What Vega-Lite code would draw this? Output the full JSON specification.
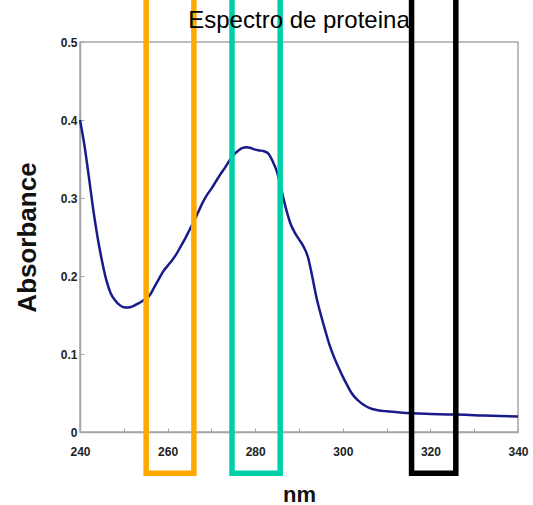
{
  "$schema": "https://vega.github.io/schema/vega-lite/v6.json",
  "autosize": "none",
  "width": 438,
  "height": 390,
  "padding": {"left": 80, "top": 42, "right": 15, "bottom": 73},
  "background": "white",
  "title": {"text": "Espectro de proteina", "font": "Liberation Sans", "fontSize": 24, "fontWeight": "normal", "color": "#000000", "offset": 0, "dy": 41},
  "config": {
    "view": {"stroke": "#a6a6a6", "strokeWidth": 1.5},
    "axis": {"grid": false, "domainColor": "#a6a6a6", "domainWidth": 1.5, "tickColor": "#a6a6a6", "tickSize": -4, "labelFlush": false, "labelFont": "Liberation Sans", "labelFontWeight": "bold", "labelFontSize": 12, "labelColor": "#222222", "titleFont": "Liberation Sans", "titleFontWeight": "bold", "titleColor": "#111111"}
  },
  "datasets": {
    "spectrum": [
      {"nm": 240, "abs": 0.400}, {"nm": 241, "abs": 0.368}, {"nm": 242, "abs": 0.328}, {"nm": 243, "abs": 0.286},
      {"nm": 244, "abs": 0.250}, {"nm": 245, "abs": 0.220}, {"nm": 246, "abs": 0.195}, {"nm": 247, "abs": 0.178},
      {"nm": 248, "abs": 0.169}, {"nm": 249, "abs": 0.163}, {"nm": 250, "abs": 0.160}, {"nm": 251, "abs": 0.1595},
      {"nm": 252, "abs": 0.161}, {"nm": 253, "abs": 0.164}, {"nm": 254, "abs": 0.167}, {"nm": 255, "abs": 0.171},
      {"nm": 256, "abs": 0.176}, {"nm": 257, "abs": 0.186}, {"nm": 258, "abs": 0.196}, {"nm": 259, "abs": 0.206},
      {"nm": 260, "abs": 0.213}, {"nm": 261, "abs": 0.220}, {"nm": 262, "abs": 0.228}, {"nm": 263, "abs": 0.238},
      {"nm": 264, "abs": 0.248}, {"nm": 265, "abs": 0.259}, {"nm": 266, "abs": 0.270}, {"nm": 267, "abs": 0.282},
      {"nm": 268, "abs": 0.294}, {"nm": 269, "abs": 0.304}, {"nm": 270, "abs": 0.312}, {"nm": 271, "abs": 0.321},
      {"nm": 272, "abs": 0.330}, {"nm": 273, "abs": 0.338}, {"nm": 274, "abs": 0.347}, {"nm": 275, "abs": 0.355},
      {"nm": 276, "abs": 0.360}, {"nm": 277, "abs": 0.364}, {"nm": 278, "abs": 0.365}, {"nm": 279, "abs": 0.364},
      {"nm": 280, "abs": 0.362}, {"nm": 281, "abs": 0.361}, {"nm": 282, "abs": 0.360}, {"nm": 283, "abs": 0.357},
      {"nm": 284, "abs": 0.347}, {"nm": 285, "abs": 0.333}, {"nm": 286, "abs": 0.310}, {"nm": 287, "abs": 0.287},
      {"nm": 288, "abs": 0.268}, {"nm": 289, "abs": 0.256}, {"nm": 290, "abs": 0.247}, {"nm": 291, "abs": 0.238},
      {"nm": 292, "abs": 0.225}, {"nm": 293, "abs": 0.200}, {"nm": 294, "abs": 0.172}, {"nm": 295, "abs": 0.150},
      {"nm": 296, "abs": 0.130}, {"nm": 297, "abs": 0.111}, {"nm": 298, "abs": 0.096}, {"nm": 299, "abs": 0.083},
      {"nm": 300, "abs": 0.071}, {"nm": 301, "abs": 0.060}, {"nm": 302, "abs": 0.050}, {"nm": 303, "abs": 0.043},
      {"nm": 304, "abs": 0.038}, {"nm": 305, "abs": 0.034}, {"nm": 306, "abs": 0.031}, {"nm": 308, "abs": 0.028},
      {"nm": 310, "abs": 0.0265}, {"nm": 313, "abs": 0.025}, {"nm": 316, "abs": 0.024}, {"nm": 320, "abs": 0.0232},
      {"nm": 324, "abs": 0.0225}, {"nm": 328, "abs": 0.022}, {"nm": 332, "abs": 0.021}, {"nm": 336, "abs": 0.0205},
      {"nm": 340, "abs": 0.0197}
    ],
    "bands": [
      {"start": 255.1, "end": 266.0, "color": "#FFA800"},
      {"start": 274.7, "end": 285.7, "color": "#00D0A8"},
      {"start": 315.7, "end": 325.8, "color": "#000000"}
    ]
  },
  "layer": [
    {
      "data": {"name": "spectrum"},
      "mark": {"type": "line", "color": "#1a1a8a", "strokeWidth": 2.5, "interpolate": "monotone"},
      "encoding": {
        "x": {"field": "nm", "type": "quantitative", "scale": {"domain": [240, 340], "nice": false, "zero": false},
          "axis": {"title": "nm", "titleFontSize": 22, "titlePadding": 27, "labelPadding": 18,
            "values": [240,245,250,255,260,265,270,275,280,285,290,295,300,305,310,315,320,325,330,335,340],
            "labelExpr": "datum.value % 20 == 0 ? datum.label : ''"}},
        "y": {"field": "abs", "type": "quantitative", "scale": {"domain": [0, 0.5], "nice": false},
          "axis": {"title": "Absorbance", "titleFontSize": 26, "titlePadding": 20, "labelPadding": 7,
            "values": [0,0.05,0.1,0.15,0.2,0.25,0.3,0.35,0.4,0.45,0.5],
            "labelExpr": "round(datum.value*100) % 10 == 0 ? format(datum.value, '.1~f') : ''"}}
      }
    },
    {
      "data": {"name": "bands"},
      "mark": {"type": "rect", "filled": false, "strokeWidth": 5.5, "clip": false},
      "encoding": {
        "x": {"field": "start", "type": "quantitative"},
        "x2": {"field": "end"},
        "y": {"datum": -0.053},
        "y2": {"datum": 0.56},
        "stroke": {"field": "color", "type": "nominal", "scale": null}
      }
    }
  ]
}
